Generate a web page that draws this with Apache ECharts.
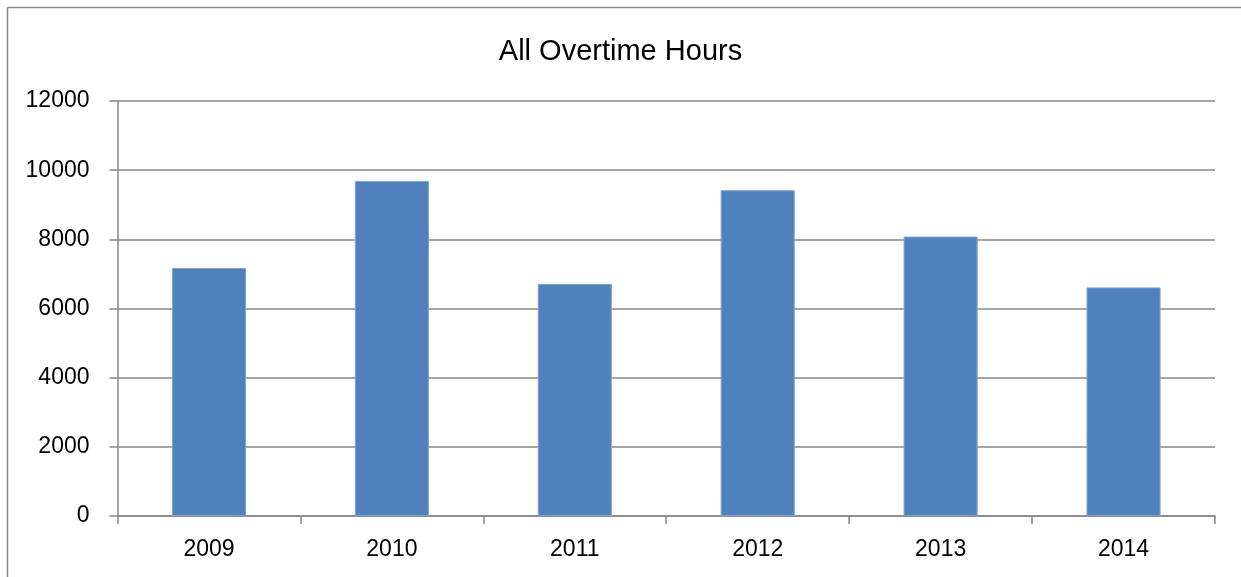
<!DOCTYPE html>
<html>
<head>
<meta charset="utf-8">
<script src="https://cdn.jsdelivr.net/npm/echarts@6/dist/echarts.min.js"></script>
<style>
html,body{margin:0;padding:0;background:#fff;}
#c{width:1241px;height:577px;}
</style>
</head>
<body>
<div id="c"></div>
<script>
const categories = ['2009', '2010', '2011', '2012', '2013', '2014'];
const overtimeHours = [7170, 9690, 6710, 9420, 8080, 6610];
const chartTitle = 'All Overtime Hours';

const gray = '#878787';
const font = 'Liberation Sans, Arial, sans-serif';
const chart = echarts.init(document.getElementById('c'), null, {renderer: 'canvas'});
chart.setOption({
  animation: false,
  backgroundColor: '#ffffff',
  title: {
    text: chartTitle,
    left: 'center',
    top: 32,
    textStyle: {fontFamily: font, fontSize: 29, fontWeight: 'normal', color: '#000'}
  },
  graphic: [
    {type: 'line', shape: {x1: 7.5, y1: 7.5, x2: 1241, y2: 7.5}, style: {stroke: gray, lineWidth: 1.5}},
    {type: 'line', shape: {x1: 7.5, y1: 7.5, x2: 7.5, y2: 577}, style: {stroke: gray, lineWidth: 1.5}}
  ],
  grid: {left: 117.5, right: 26, top: 101, bottom: 61, containLabel: false},
  xAxis: {
    type: 'category',
    data: categories,
    boundaryGap: true,
    axisLine: {show: true, lineStyle: {color: gray, width: 1.5}},
    axisTick: {show: true, length: 8, alignWithLabel: false, lineStyle: {color: gray, width: 1.5}},
    axisLabel: {fontFamily: font, fontSize: 23, color: '#000', margin: 22},
    splitLine: {show: false}
  },
  yAxis: {
    type: 'value',
    min: 0,
    max: 12000,
    interval: 2000,
    axisLine: {show: true, lineStyle: {color: gray, width: 1.5}},
    axisTick: {show: true, length: 8, lineStyle: {color: gray, width: 1.5}},
    axisLabel: {fontFamily: font, fontSize: 23, color: '#000', margin: 28, formatter: function (v) { return String(v); }},
    splitLine: {show: true, lineStyle: {color: gray, width: 1.5}}
  },
  series: [{
    type: 'bar',
    data: overtimeHours,
    barWidth: '40.5%',
    itemStyle: {color: '#4F81BD', borderColor: '#7EA3D3', borderWidth: 1}
  }]
});
</script>
</body>
</html>
